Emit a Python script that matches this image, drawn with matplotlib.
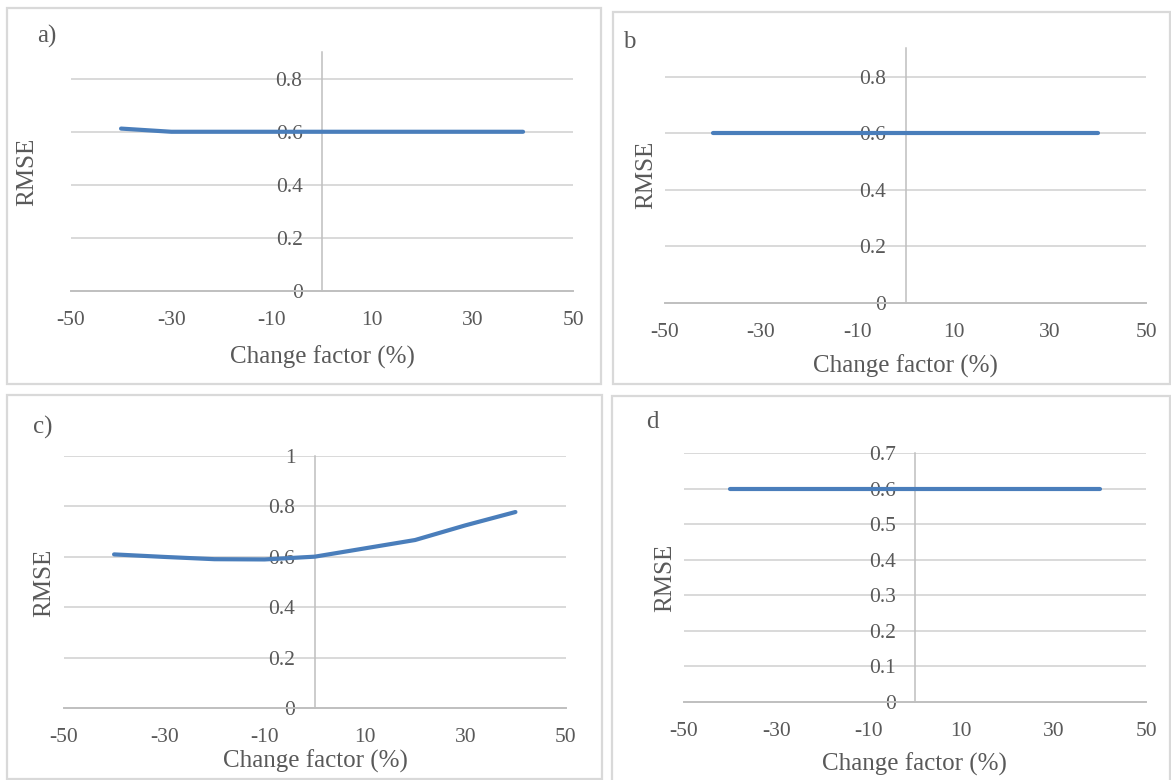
import matplotlib
matplotlib.use("Agg")
import matplotlib.pyplot as plt
from matplotlib.patches import Rectangle

# ---- data ----
change_factor = [-40, -30, -20, -10, 0, 10, 20, 30, 40]
rmse_a = [0.612, 0.600, 0.600, 0.600, 0.600, 0.600, 0.600, 0.600, 0.600]
rmse_b = [0.600, 0.600, 0.600, 0.600, 0.600, 0.600, 0.600, 0.600, 0.600]
rmse_c = [0.610, 0.600, 0.591, 0.590, 0.601, 0.634, 0.667, 0.725, 0.778]
rmse_d = [0.600, 0.600, 0.600, 0.600, 0.600, 0.600, 0.600, 0.600, 0.600]
xticks = [-50, -30, -10, 10, 30, 50]
yticks_ab = [0, 0.2, 0.4, 0.6, 0.8]
yticks_c = [0, 0.2, 0.4, 0.6, 0.8, 1]
yticks_d = [0, 0.1, 0.2, 0.3, 0.4, 0.5, 0.6, 0.7]
panel_labels = ["a)", "b", "c)", "d"]
xlabel = "Change factor (%)"
ylabel = "RMSE"

W, H = 1171, 780
plt.rcParams['font.family'] = ['Liberation Serif', 'DejaVu Serif']
TXT = '#595959'
GRID = '#d9d9d9'
AXC = '#bfbfbf'
LINE = '#4a7ebb'

fig = plt.figure(figsize=(W / 100, H / 100), dpi=100)

def fmt(v):
    if v == 0:
        return "0"
    if v == 1:
        return "1"
    return f"{v:g}"

def frame(x0, y0, x1, y1):
    fig.add_artist(Rectangle((x0 / W, 1 - y1 / H), (x1 - x0) / W, (y1 - y0) / H,
                             transform=fig.transFigure, fill=False,
                             ec=GRID, lw=1.6))

def panel(l, r, b, t, ymax, yticks, y, lab, labpos, xlpos, ylpos):
    ax = fig.add_axes([l / W, 1 - b / H, (r - l) / W, (b - t) / H])
    ax.set_xlim(-50, 50)
    ax.set_ylim(0, ymax)
    ax.set_facecolor('none')
    for yt in yticks:
        if yt == 0:
            continue
        ax.axhline(yt, color=GRID, lw=1.4, zorder=1)
    for s in ['top', 'right']:
        ax.spines[s].set_visible(False)
    ax.spines['left'].set_position(('data', 0))
    ax.spines['left'].set_color(AXC)
    ax.spines['left'].set_linewidth(1.1)
    ax.spines['bottom'].set_color(AXC)
    ax.spines['bottom'].set_linewidth(1.4)
    ax.set_xticks(xticks)
    ax.set_xticklabels([str(v) for v in xticks])
    ax.set_yticks(yticks)
    ax.set_yticklabels([fmt(v) for v in yticks])
    ax.tick_params(axis='both', length=0, labelsize=15.5, colors=TXT)
    ax.tick_params(axis='y', pad=14)
    ax.tick_params(axis='x', pad=14.5)
    ax.plot(change_factor, y, color=LINE, lw=3.0, solid_capstyle='round', zorder=3)
    fig.text(labpos[0] / W, 1 - labpos[1] / H, lab, fontsize=18, color=TXT,
             ha='center', va='center')
    fig.text(xlpos[0] / W, 1 - xlpos[1] / H, xlabel, fontsize=18, color=TXT,
             ha='center', va='center')
    fig.text(ylpos[0] / W, 1 - ylpos[1] / H, ylabel, fontsize=18, color=TXT,
             ha='center', va='center', rotation=90)
    return ax

frame(6.5, 8.5, 601, 384)
frame(612.5, 12, 1170, 383.5)
frame(6.5, 394.5, 601.5, 778.5)
frame(611.5, 396, 1170, 782)

panel(70.8, 573.3, 290.7, 52.3, 0.9, yticks_ab, rmse_a, panel_labels[0],
      (47, 36), (322, 357), (27.6, 172))
panel(664.8, 1146.2, 302.7, 48.4, 0.9, yticks_ab, rmse_b, panel_labels[1],
      (629, 42), (905, 366), (646.6, 175))
panel(63.9, 565.6, 708.3, 456.0, 1.0, yticks_c, rmse_c, panel_labels[2],
      (42.7, 427), (315, 761), (44, 582.5))
panel(683.8, 1146.2, 701.7, 453.3, 0.7, yticks_d, rmse_d, panel_labels[3],
      (652.7, 422), (914.6, 764), (665.5, 578))

fig.savefig("out.png", dpi=100)
